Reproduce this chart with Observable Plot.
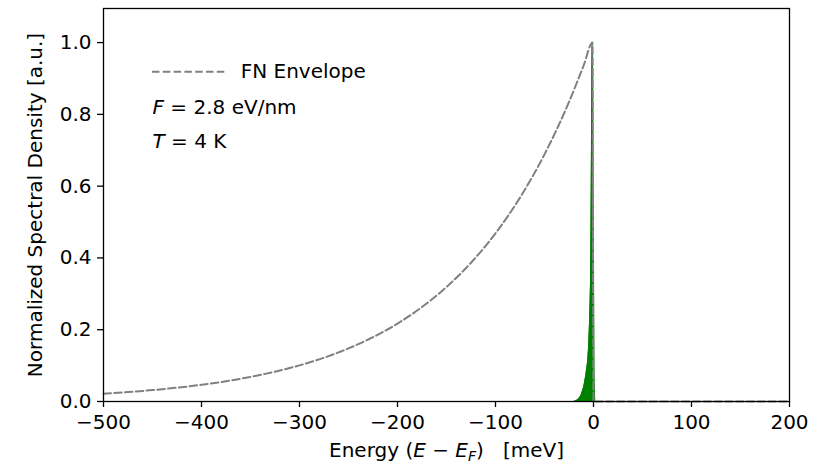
<!DOCTYPE html>
<html>
<head>
<meta charset="utf-8">
<script src="https://cdn.jsdelivr.net/npm/d3@7"></script>
<script src="https://cdn.jsdelivr.net/npm/@observablehq/plot@0.6"></script>
<style>
  body { margin: 0; background: #fff; }
  #chart svg text { white-space: pre; }
</style>
</head>
<body>
<div id="chart"></div>
<script>
// FN envelope (dashed), energy in meV
const envE = [-500,-475,-450,-425,-400,-375,-350,-325,-300,-275,-250,-225,-200,-175,-150,-125,-100,-75,-50,-25,-10,-1,0,200];
const envV = [0.0216,0.0262,0.0318,0.0385,0.0466,0.0565,0.0685,0.0831,0.1007,0.1220,0.1479,0.1792,0.2172,0.2633,0.3191,0.3867,0.4687,0.5681,0.6886,0.8346,0.9367,1.0,0,0];

// Spectral density peak (green fill)
const peakE = [-500,-20,-16,-13,-10,-8,-6,-5,-4,-3,-2.5,-2,-1.5,-1,-0.5,0,0.5,1,1.5,200];
const peakV = [0,0,0.005,0.015,0.04,0.07,0.11,0.15,0.22,0.33,0.5,0.72,1.0,0.92,0.6,0.3,0.08,0.01,0,0];

const xTicks = [-500,-400,-300,-200,-100,0,100,200];
const yTicks = [0,0.2,0.4,0.6,0.8,1.0];

const env = envE.map((e,i) => ({e, v: envV[i]}));
const peak = peakE.map((e,i) => ({e, v: peakV[i]}));

const fs = 20;
const plot = Plot.plot({
  width: 836,
  height: 466,
  marginLeft: 103,
  marginRight: 47,
  marginTop: 8,
  marginBottom: 65,
  style: {fontFamily: "DejaVu Sans", fontSize: fs + "px", color: "#000", background: "#fff"},
  x: {domain: [-500, 200]},
  y: {domain: [0, 1.095]},
  marks: [
    Plot.areaY(peak, {x: "e", y: "v", fill: "#008000", curve: "linear"}),
    Plot.line(peak, {x: "e", y: "v", stroke: "#008000", strokeWidth: 1.2, curve: "linear"}),
    Plot.line(env, {x: "e", y: "v", stroke: "#808080", strokeWidth: 2, strokeDasharray: "7.5,3.3", curve: "monotone-x"}),
    Plot.axisX({ticks: xTicks, tickSize: 6, tickPadding: 7, strokeWidth: 1.3, tickFormat: d3.format("d"), label: null, fontSize: fs}),
    Plot.axisY({ticks: yTicks, tickSize: 6, tickPadding: 6, strokeWidth: 1.3, tickFormat: d3.format(".1f"), label: null, fontSize: fs}),
    Plot.frame({stroke: "#000", strokeWidth: 1.3}),
    // legend-like annotations
    Plot.ruleY([0.919], {x1: -450, x2: -375, stroke: "#808080", strokeWidth: 2, strokeDasharray: "7.5,3.3"}),
    Plot.text(["FN Envelope"], {x: -360, y: 0.919, text: d => d, textAnchor: "start", fontSize: fs}),
    Plot.text(["F = 2.8 eV/nm"], {x: -450, y: 0.819, text: d => d, textAnchor: "start", fontSize: fs}),
    Plot.text(["T = 4 K"], {x: -450, y: 0.724, text: d => d, textAnchor: "start", fontSize: fs}),
    // axis labels
    Plot.text(["XLABEL"], {frameAnchor: "bottom", dy: 49, lineAnchor: "middle", textAnchor: "middle", text: d => d, fontSize: fs}),
    Plot.text(["Normalized Spectral Density [a.u.]"], {frameAnchor: "left", dx: -68, rotate: -90, textAnchor: "middle", lineAnchor: "middle", text: d => d, fontSize: fs})
  ]
});

d3.select(plot).selectAll("text").each(function() {
  const t = this.textContent;
  if (t === "F = 2.8 eV/nm") {
    this.innerHTML = '<tspan font-style="italic">F</tspan> = 2.8 eV/nm';
  } else if (t === "T = 4 K") {
    this.innerHTML = '<tspan font-style="italic">T</tspan> = 4 K';
  } else if (t === "XLABEL") {
    this.innerHTML = 'Energy (<tspan font-style="italic">E</tspan> \u2212 <tspan font-style="italic">E</tspan><tspan font-style="italic" font-size="14" dy="4">F</tspan><tspan dy="-4">)   [meV]</tspan>';
  }
});

document.getElementById("chart").appendChild(plot);
</script>
</body>
</html>
